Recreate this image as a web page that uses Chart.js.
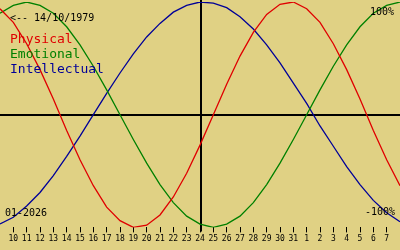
<!DOCTYPE html>
<html>
<head>
<meta charset="utf-8">
<script src="https://cdn.jsdelivr.net/npm/chart.js@4"></script>
<style>
  html, body { margin: 0; padding: 0; background: #e0d184; }
  #wrap { width: 400px; height: 250px; }
</style>
</head>
<body>
<div id="wrap"><canvas id="bioChart" width="400" height="250"></canvas></div>
<script>
// days of the window (day numbers counted from 1 Jan; 32.. = February)
const days = [9, 10, 11, 12, 13, 14, 15, 16, 17, 18, 19, 20, 21, 22, 23, 24,
    25, 26, 27, 28, 29, 30, 31, 32, 33, 34, 35, 36, 37, 38, 39];
const tickDays = [10, 11, 12, 13, 14, 15, 16, 17, 18, 19, 20, 21, 22, 23, 24,
    25, 26, 27, 28, 29, 30, 31, 32, 33, 34, 35, 36, 37, 38];
const tickLabels = ['10', '11', '12', '13', '14', '15', '16', '17', '18', '19', '20',
    '21', '22', '23', '24', '25', '26', '27', '28', '29', '30', '31',
    '1', '2', '3', '4', '5', '6', '7'];

const physical = [0.94, 0.82, 0.63, 0.40, 0.14, -0.14, -0.40, -0.63, -0.82, -0.94,
    -1.00, -0.98, -0.89, -0.73, -0.52, -0.27, 0.00, 0.27, 0.52, 0.73, 0.89,
    0.98, 1.00, 0.94, 0.82, 0.63, 0.40, 0.14, -0.14, -0.40, -0.63];
const emotional = [0.90, 0.97, 1.00, 0.97, 0.90, 0.78, 0.62, 0.43, 0.22, 0.00,
    -0.22, -0.43, -0.62, -0.78, -0.90, -0.97, -1.00, -0.97, -0.90, -0.78, -0.62,
    -0.43, -0.22, 0.00, 0.22, 0.43, 0.62, 0.78, 0.90, 0.97, 1.00];
const intellectual = [-0.97, -0.91, -0.81, -0.69, -0.54, -0.37, -0.19, 0.00, 0.19, 0.37,
    0.54, 0.69, 0.81, 0.91, 0.97, 1.00, 0.99, 0.95, 0.87, 0.76, 0.62,
    0.46, 0.28, 0.10, -0.10, -0.28, -0.46, -0.62, -0.76, -0.87, -0.95];

const today = 24;
const birthText = '<-- 14/10/1979';
const monthText = '01-2026';
const seriesNames = ['Physical', 'Emotional', 'Intellectual'];
const seriesColors = ['#e00000', '#008000', '#000098'];

const toPoints = vals => vals.map((v, i) => ({x: days[i], y: v}));

const overlay = {
    id: 'overlay',
    beforeDatasetsDraw(chart) {
        const {ctx, chartArea, scales: {x, y}} = chart;
        const y0 = Math.round(y.getPixelForValue(0));
        const xt = Math.round(x.getPixelForValue(today)) + 1;
        ctx.save();
        ctx.strokeStyle = '#000';
        ctx.lineWidth = 2;
        ctx.beginPath();
        ctx.moveTo(0, y0);
        ctx.lineTo(chart.width, y0);
        ctx.moveTo(xt, 0);
        ctx.lineTo(xt, chartArea.bottom + 4);
        ctx.stroke();
        ctx.restore();
    },
    afterDatasetsDraw(chart) {
        const ctx = chart.ctx;
        ctx.save();
        ctx.textBaseline = 'alphabetic';
        ctx.fillStyle = '#000';
        ctx.font = '10px "DejaVu Sans Mono"';
        ctx.fillText(birthText, 10, 21);
        ctx.fillText('100%', 370, 15);
        ctx.fillText('-100%', 365, 215);
        ctx.fillText(monthText, 5, 216);
        ctx.font = '13px "DejaVu Sans Mono"';
        seriesNames.forEach((name, i) => {
            ctx.fillStyle = seriesColors[i];
            ctx.fillText(name, 10, 43 + i * 15);
        });
        ctx.restore();
    }
};

const ctx = document.getElementById('bioChart').getContext('2d');
const bioChart = new Chart(ctx, {
    type: 'line',
    data: {
        datasets: [physical, emotional, intellectual].map((vals, i) => ({
            label: seriesNames[i],
            data: toPoints(vals),
            borderColor: seriesColors[i],
            borderWidth: 1.3,
            pointRadius: 0,
            tension: 0,
            fill: false
        }))
    },
    options: {
        responsive: false,
        animation: false,
        layout: { padding: { top: 2, bottom: 4, left: 0, right: 0 } },
        plugins: {
            legend: { display: false },
            tooltip: { enabled: false }
        },
        scales: {
            x: {
                type: 'linear',
                min: 9,
                max: 39,
                afterBuildTicks: scale => {
                    scale.ticks = tickDays.map(d => ({value: d}));
                },
                grid: {
                    drawOnChartArea: false,
                    drawTicks: true,
                    tickLength: 5,
                    color: '#000'
                },
                border: { display: false },
                ticks: {
                    autoSkip: false,
                    maxRotation: 0,
                    padding: 2,
                    color: '#000',
                    font: { family: '"DejaVu Sans Mono"', size: 8 },
                    callback: value => tickLabels[tickDays.indexOf(value)]
                }
            },
            y: {
                display: false,
                min: -1,
                max: 1
            }
        }
    },
    plugins: [overlay]
});
</script>
</body>
</html>
